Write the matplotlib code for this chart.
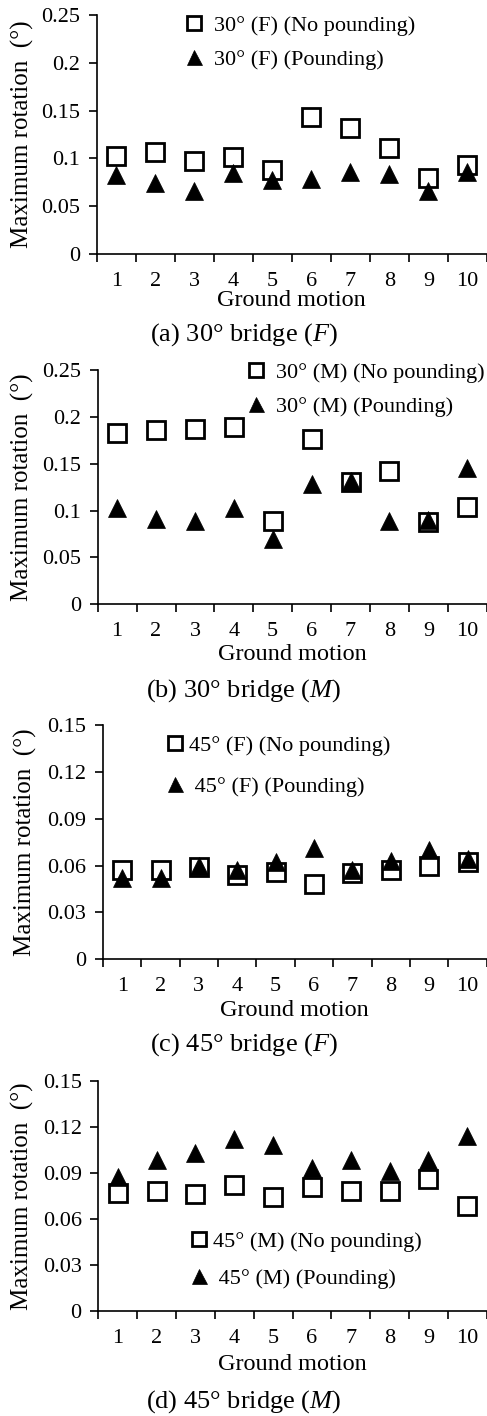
import numpy as np
import matplotlib
matplotlib.use("Agg")
import matplotlib.pyplot as plt

plt.rcParams["font.family"] = ["Liberation Serif", "DejaVu Serif"]
plt.rcParams["mathtext.fontset"] = "custom"
plt.rcParams["mathtext.rm"] = "Liberation Serif"
plt.rcParams["mathtext.it"] = "Liberation Serif:italic"

motions = np.arange(1, 11)

# (a) 30 deg bridge, F
a_nopound = [0.103, 0.107, 0.097, 0.101, 0.088, 0.143, 0.132, 0.111, 0.079, 0.093]
a_pound = [0.083, 0.074, 0.066, 0.085, 0.077, 0.078, 0.086, 0.084, 0.066, 0.086]
# (b) 30 deg bridge, M
b_nopound = [0.183, 0.186, 0.187, 0.189, 0.089, 0.176, 0.130, 0.142, 0.088, 0.104]
b_pound = [0.103, 0.091, 0.089, 0.103, 0.070, 0.128, 0.132, 0.089, 0.090, 0.145]
# (c) 45 deg bridge, F
c_nopound = [0.057, 0.057, 0.059, 0.054, 0.056, 0.048, 0.055, 0.057, 0.060, 0.062]
c_pound = [0.052, 0.052, 0.060, 0.057, 0.062, 0.071, 0.057, 0.063, 0.070, 0.064]
# (d) 45 deg bridge, M
d_nopound = [0.077, 0.078, 0.076, 0.082, 0.074, 0.081, 0.078, 0.078, 0.086, 0.068]
d_pound = [0.087, 0.098, 0.103, 0.112, 0.108, 0.093, 0.098, 0.091, 0.098, 0.114]

W, H = 487, 1416
fig = plt.figure(figsize=(W / 100, H / 100), dpi=100)

def px_axes(left, right, top, bottom):
    return fig.add_axes([left / W, 1 - bottom / H, (right - left) / W, (bottom - top) / H])

panels = [
    dict(box=(96.7, 487, 15, 254), nop=a_nopound, pd=a_pound, ymax=0.25, step=0.05,
         labels=["30° (F) (No pounding)", "30° (F) (Pounding)"],
         leg=(185, 42.5), leg_gap=0.5, lspace=0.6,
         xl=300, cap=335, cap_txt="(a) 30° bridge ($F$)", yl=22),
    dict(box=(97.7, 486.7, 370, 604.3), nop=b_nopound, pd=b_pound, ymax=0.25, step=0.05,
         labels=["30° (M) (No pounding)", "30° (M) (Pounding)"],
         leg=(247, 389.5), leg_gap=0.5, lspace=0.6,
         xl=654, cap=690.7, cap_txt="(b) 30° bridge ($M$)", yl=22),
    dict(box=(103, 486.7, 725, 959.3), nop=c_nopound, pd=c_pound, ymax=0.15, step=0.03,
         labels=["45° (F) (No pounding)", " 45° (F) (Pounding)"],
         leg=(166, 766), leg_gap=0.25, lspace=0.9,
         xl=1010, cap=1045, cap_txt="(c) 45° bridge ($F$)", yl=25),
    dict(box=(98.3, 486.7, 1080.7, 1310.7), nop=d_nopound, pd=d_pound, ymax=0.15, step=0.03,
         labels=["45° (M) (No pounding)", " 45° (M) (Pounding)"],
         leg=(190, 1260), leg_gap=0.25, lspace=0.75,
         xl=1365, cap=1401.7, cap_txt="(d) 45° bridge ($M$)", yl=22),
]

for p in panels:
    left, right, top, bottom = p["box"]
    ax = px_axes(left, right, top, bottom)
    ax.plot(motions, p["nop"], ls="none", marker="s", ms=12.5, mew=2,
            mfc="white", mec="black", label=p["labels"][0], zorder=3)
    ax.plot(motions, p["pd"], ls="none", marker="^", ms=13.5, mew=0.5,
            mfc="black", mec="black", label=p["labels"][1], zorder=4)
    ax.set_xlim(0.5, 10.5)
    ax.set_ylim(0, p["ymax"])
    yt = np.round(np.arange(0, p["ymax"] + 1e-9, p["step"]), 2)
    ax.set_yticks(yt)
    ax.set_yticklabels([f"{v:g}" for v in yt])
    ax.set_xticks(np.arange(0.5, 11, 1))
    ax.set_xticklabels([])
    ax.set_xticks(motions, minor=True)
    ax.set_xticklabels([str(m) for m in motions], minor=True)
    ax.tick_params(axis="x", which="major", length=6, width=1.2, direction="out")
    ax.tick_params(axis="x", which="minor", length=0, pad=13, labelsize=16)
    ax.tick_params(axis="y", length=6, width=1.2, direction="out", pad=6, labelsize=16)
    for s in ["top", "right"]:
        ax.spines[s].set_visible(False)
    for s in ["left", "bottom"]:
        ax.spines[s].set_linewidth(1.2)
    ax.set_facecolor("none")

    lx, ly = p["leg"]
    ax.legend(loc="center left", bbox_to_anchor=(lx / W, 1 - ly / H),
              bbox_transform=fig.transFigure, frameon=False, fontsize=16,
              handlelength=0.8, handletextpad=p["leg_gap"], labelspacing=p["lspace"],
              borderpad=0, borderaxespad=0, markerscale=0.8)

    fig.text((left + right) / 2 / W, 1 - p["xl"] / H, "Ground motion",
             ha="center", va="center", fontsize=17.5)
    fig.text(p["yl"] / W, 1 - (top + bottom) / 2 / H, "Maximum rotation  (°)",
             ha="center", va="center", rotation=90, fontsize=18)
    fig.text(244 / W, 1 - p["cap"] / H, p["cap_txt"], ha="center", va="center",
             fontsize=19)

fig.savefig("out.png", dpi=100)
